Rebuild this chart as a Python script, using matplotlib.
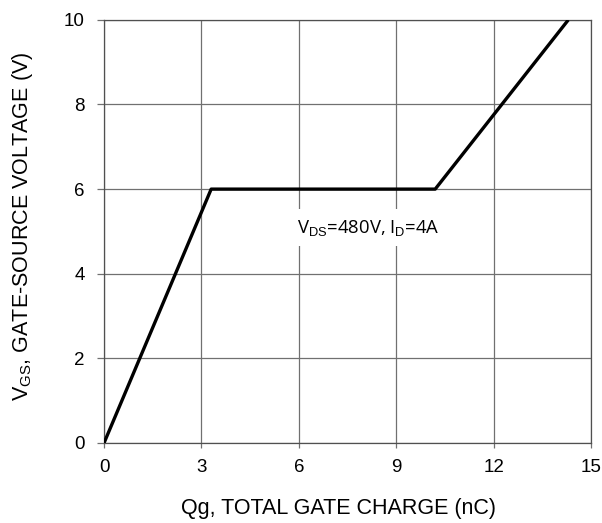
import matplotlib.pyplot as plt

plt.rcParams['font.family'] = ['Liberation Sans', 'DejaVu Sans']
plt.rcParams['mathtext.fontset'] = 'custom'
plt.rcParams['mathtext.rm'] = 'Liberation Sans'

# gate charge curve (nC, V)
qg = [0, 3.3, 10.2, 14.3]
vgs = [0, 6, 6, 10]

x_ticks = [0, 3, 6, 9, 12, 15]
y_ticks = [0, 2, 4, 6, 8, 10]

fig = plt.figure(figsize=(6.02, 5.23), dpi=100)
ax = fig.add_axes([0.1728, 0.153, 0.809, 0.809])

ax.plot(qg, vgs, color='black', lw=2.4, solid_capstyle='butt', zorder=3)

ax.set_xlim(0, 15)
ax.set_ylim(0, 10)
ax.set_xticks(x_ticks)
ax.set_yticks(y_ticks)
ax.grid(True, color='#707070', lw=0.9)
ax.tick_params(labelsize=13.5, width=0.9, color='#707070', direction='out')
ax.tick_params(axis='x', length=3.6, pad=8)
ax.tick_params(axis='y', length=5, pad=9)
for s in ax.spines.values():
    s.set_color('#505050')
    s.set_linewidth(0.9)

ax.set_xlabel('Qg, TOTAL GATE CHARGE (nC)', fontsize=15.5, labelpad=16)
ax.set_ylabel(r'V$_{\mathrm{GS}}$, GATE-SOURCE VOLTAGE (V)', fontsize=15.5, labelpad=21)
ax.xaxis.label.set_x(0.4815)
ax.yaxis.label.set_y(0.512)

ax.text(5.95, 4.97, r'V$_{\mathrm{DS}}$=480V, I$_{\mathrm{D}}$=4A', fontsize=13.3,
        family=['Open Sans', 'DejaVu Sans'], va='baseline', ha='left', zorder=4,
        bbox=dict(facecolor='white', edgecolor='none', pad=6))

fig.savefig('out.png', dpi=100)
